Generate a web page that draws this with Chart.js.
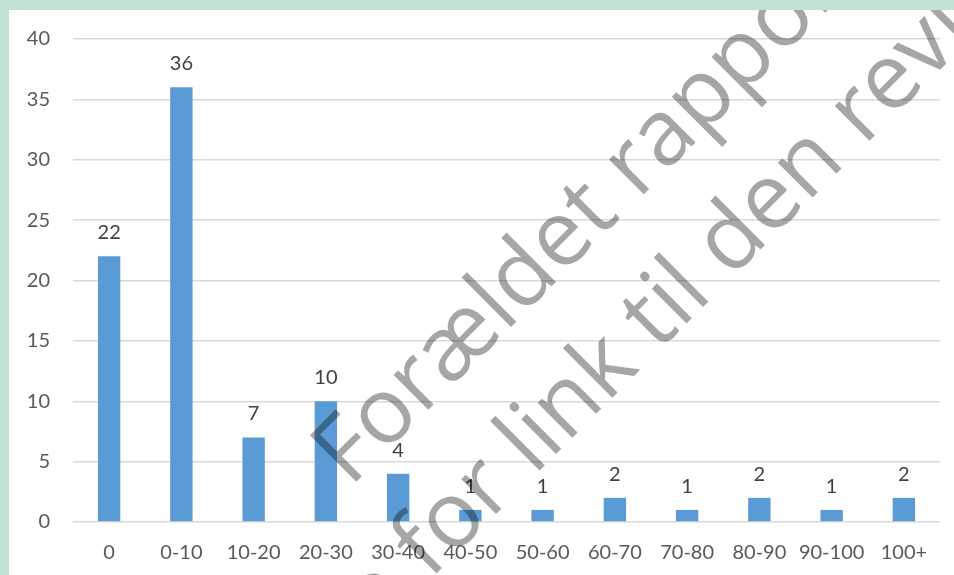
<!DOCTYPE html>
<html>
<head>
<meta charset="utf-8">
<script src="https://cdn.jsdelivr.net/npm/chart.js@4"></script>
<style>
html,body{margin:0;padding:0;background:#c1e3d4;overflow:hidden}
.wrap{position:absolute;left:9px;top:10px;width:945px;height:565px;background:#fff}
</style>
</head>
<body>
<div class="wrap"><canvas id="chart" width="945" height="565"></canvas></div>
<script>
/* ---------------- DATA ---------------- */

const categories = ["0","0-10","10-20","20-30","30-40","40-50","50-60","60-70","70-80","80-90","90-100","100+"]
const counts = [22,36,7,10,4,1,1,2,1,2,1,2]
const yTicks = [0,5,10,15,20,25,30,35,40]
const stampLine1 = "Forældet rapport - se"
const stampLine2 = ["Se forside for ", "link til den reviderede version"]

/* ---------------- PLUGINS ---------------- */

const valueLabels = {
id:"valueLabels",
afterDatasetsDraw(chart){
const ctx = chart.ctx
const meta = chart.getDatasetMeta(0)
ctx.save()
ctx.font = "20px Lato"
ctx.fillStyle = "#404040"
ctx.textAlign = "center"
ctx.textBaseline = "alphabetic"
meta.data.forEach((bar,i)=>{
ctx.fillText(String(counts[i]), bar.x, bar.y - 17)
})
ctx.restore()
}
}

// diagonal watermark over the chart (canvas coords = page - (9,10))
const stamp = {
id:"stamp",
afterDraw(chart){
const ctx = chart.ctx
ctx.save()
ctx.translate(-9,-10)
ctx.font = "92px 'Open Sans'"
ctx.fillStyle = "rgba(0,0,0,0.35)"
ctx.textBaseline = "alphabetic"

ctx.save()
ctx.translate(350,488)
ctx.rotate(-Math.PI/4)
ctx.fillText(stampLine1, 0, 0)
ctx.restore()

ctx.save()
ctx.translate(534,476)
ctx.rotate(-Math.PI/4)
const pre = ctx.measureText(stampLine2[0]).width
ctx.fillText(stampLine2[0] + stampLine2[1], -pre, 0)
ctx.restore()

ctx.restore()
}
}

/* ---------------- CHART ---------------- */

new Chart(document.getElementById("chart"),{
type:"bar",
data:{
labels:categories,
datasets:[{
data:counts,
backgroundColor:"#5b9bd5",
barPercentage:0.31,
categoryPercentage:1
}]
},
options:{
responsive:false,
animation:false,
layout:{padding:{top:29,right:14,bottom:0,left:0}},
plugins:{legend:{display:false},tooltip:{enabled:false}},
scales:{
x:{
grid:{display:false,drawTicks:false},
border:{display:false},
ticks:{color:"#595959",font:{family:"Lato",size:20},padding:19,maxRotation:0,autoSkip:false},
afterFit:s=>{s.height=53}
},
y:{
min:0,max:40,
afterBuildTicks:s=>{s.ticks = yTicks.map(v=>({value:v}))},
grid:{color:"#d9d9d9",lineWidth:1.5,drawTicks:false},
border:{display:false},
ticks:{color:"#595959",font:{family:"Lato",size:20},padding:23},
afterFit:s=>{s.width=64; s.paddingTop=10; s.paddingBottom=10}
}
}
},
plugins:[valueLabels,stamp]
})
</script>
</body>
</html>
